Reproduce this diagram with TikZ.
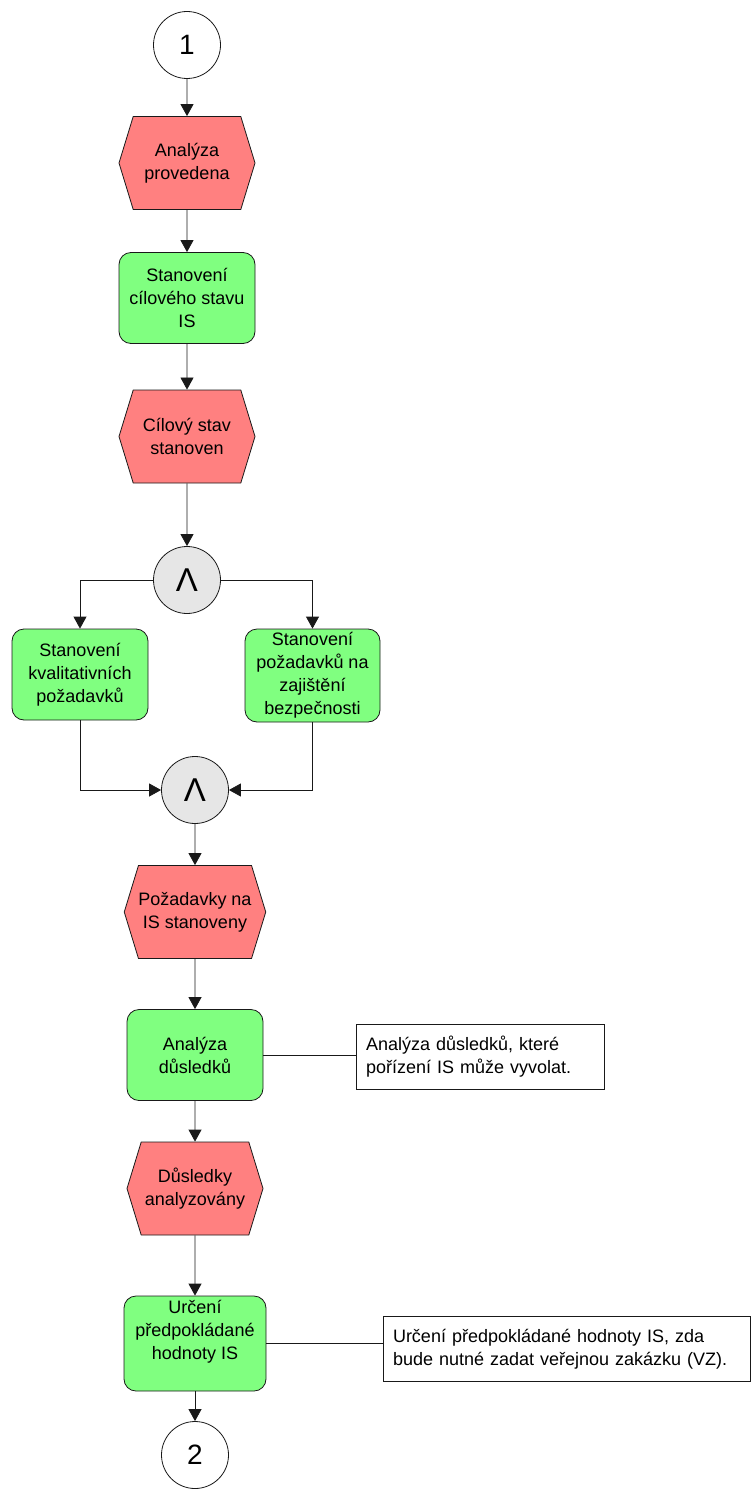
\documentclass[tikz,border=0pt]{standalone}
\usepackage{fontspec}
\setmainfont{Liberation Sans}
\usetikzlibrary{arrows.meta,shapes.symbols}
\definecolor{evred}{RGB}{255,128,128}
\definecolor{fngreen}{RGB}{128,255,128}
\definecolor{gategray}{RGB}{230,230,230}
\definecolor{edge}{RGB}{25,25,25}
\begin{document}
\begin{tikzpicture}[x=1pt,y=-1pt,
  font=\fontsize{18}{23}\selectfont,
  line/.style={draw=edge, line width=0.8pt},
  arr/.style={line, -{Triangle[length=12pt,width=13pt]}},
  event/.style={shape=signal, signal to=west and east, signal pointer angle=146,
    draw=edge, line width=0.8pt, fill=evred, minimum width=136pt, minimum height=93pt,
    inner sep=0pt, align=center},
  func/.style={rectangle, rounded corners=12pt, draw=edge, line width=0.8pt, fill=fngreen,
    minimum width=136pt, minimum height=91pt, inner sep=0pt, align=center},
  ftext/.style={inner sep=0pt, align=center},
  conn/.style={circle, draw=edge, line width=0.8pt, fill=white, minimum size=67pt,
    inner sep=0pt, font=\fontsize{28}{30}\selectfont},
  gate/.style={conn, fill=gategray, font=\fontsize{33}{35}\selectfont},
  note/.style={rectangle, draw=edge, line width=0.8pt, fill=white, align=left,
    inner xsep=10pt, inner ysep=0pt, minimum height=65pt}
]
\useasboundingbox (0,0) rectangle (752,1490);

% upper column
\node[conn]  (c1) at (187,45)    {1};
\node[event] (e1) at (187,163)   {Analýza\\provedena};
\node[func]  (f1) at (187,298)   {Stanovení\\cílového stavu\\IS};
\node[event] (e2) at (187,436.5) {Cílový stav\\stanoven};
\node[gate]  (g1) at (187,580)   {Λ};

% parallel branch
\node[func]  (f2) at (80,674.5)  {Stanovení\\kvalitativních\\požadavků};
\node[func, minimum width=135pt, minimum height=93pt] (f3) at (312.5,675.5)
  {Stanovení\\požadavků na\\zajištění\\bezpečnosti};
\node[gate]  (g2) at (195,790)   {Λ};

% lower column
\node[event] (e3) at (195,912)    {Požadavky na\\IS stanoveny};
\node[func]  (f4) at (195,1055)   {Analýza\\důsledků};
\node[event] (e4) at (195,1188.5) {Důsledky\\analyzovány};
\node[func, minimum width=142pt, minimum height=95pt] (f5) at (195,1343.5) {};
\node[ftext] (f5t) at (195,1332) {Určení\\předpokládané\\hodnoty IS};
\node[conn]  (c2) at (195,1455)   {2};

% notes
\node[note, text width=228pt] (n1) at (480,1056.5)
  {Analýza důsledků, které\\pořízení IS může vyvolat.};
\node[note, text width=347pt] (n2) at (566.5,1349)
  {Určení předpokládané hodnoty IS, zda\\bude nutné zadat veřejnou zakázku (VZ).};

% connectors
\draw[arr] (c1) -- (e1);
\draw[arr] (e1) -- (f1);
\draw[arr] (f1) -- (e2);
\draw[arr] (e2) -- (g1);
\draw[arr] (g1.west) -| (f2.north);
\draw[arr] (g1.east) -| (f3.north);
\draw[arr] (f2.south) |- (g2.west);
\draw[arr] (f3.south) |- (g2.east);
\draw[arr] (g2) -- (e3);
\draw[arr] (e3) -- (f4);
\draw[arr] (f4) -- (e4);
\draw[arr] (e4) -- (f5);
\draw[arr] (f5) -- (c2);
\draw[line] (f4.east) -- (n1.west |- f4.east);
\draw[line] (f5.east) -- (n2.west |- f5.east);
\end{tikzpicture}
\end{document}
